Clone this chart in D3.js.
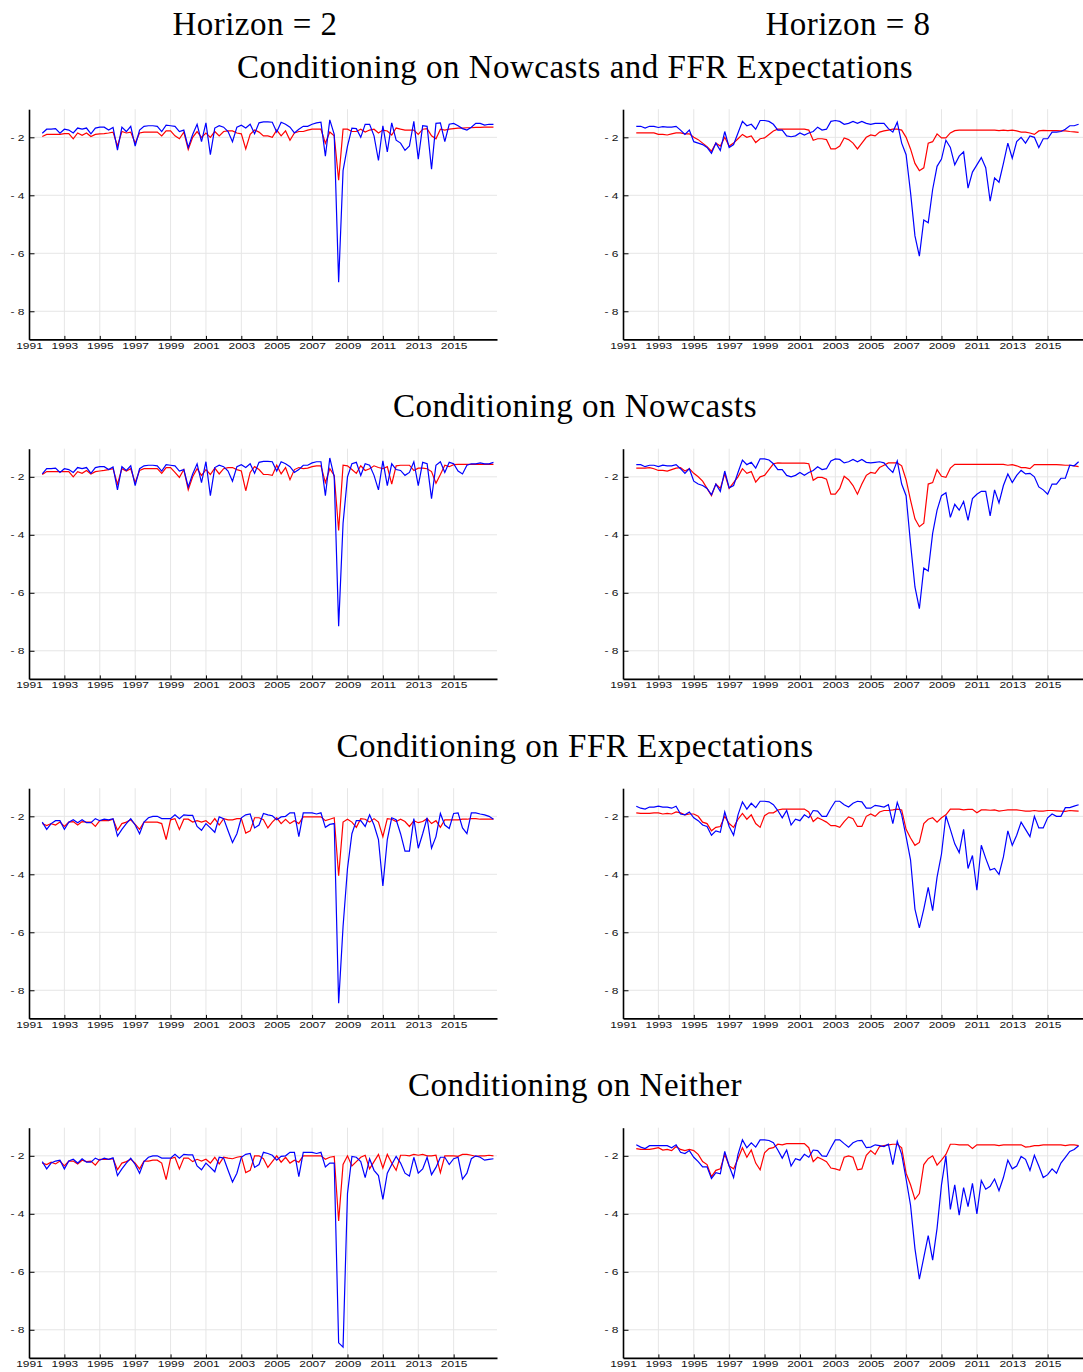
<!DOCTYPE html>
<html>
<head>
<meta charset="utf-8">
<script src="https://cdn.jsdelivr.net/npm/d3@7"></script>
<style>
  body { margin: 0; background: #fff; }
  svg { display: block; }
  .title { font-family: "Liberation Serif", "DejaVu Serif", serif; font-size: 33px; letter-spacing: 0.5px; fill: #000; }
  .axis text { font-family: "Liberation Sans", Arial, sans-serif; font-size: 9px; fill: #111; }
  .axis path { stroke: #000; stroke-width: 1.6px; }
  .axis line { stroke: #000; stroke-width: 1px; }
  .grid line { stroke: #e6e6e6; stroke-width: 1px; }
</style>
</head>
<body>
<div id="chart"></div>
<script>
// quarterly series, first point 1991Q4 (1991.75), step 0.25 year
const firstYear = 1991.75;
const step = 0.25;

const colTitles = ['Horizon = 2', 'Horizon = 8'];
const rowTitles = [
  'Conditioning on Nowcasts and FFR Expectations',
  'Conditioning on Nowcasts',
  'Conditioning on FFR Expectations',
  'Conditioning on Neither'
];
const xTicks = [1991, 1993, 1995, 1997, 1999, 2001, 2003, 2005, 2007, 2009, 2011, 2013, 2015];
const yTicks = [-2, -4, -6, -8];

// Row 1: Nowcasts and FFR Expectations
const bothH2Blue = [-1.86,-1.72,-1.72,-1.70,-1.86,-1.72,-1.75,-1.85,-1.68,-1.72,
  -1.68,-1.88,-1.68,-1.65,-1.65,-1.75,-1.66,-2.44,-1.65,-1.80,
  -1.62,-2.30,-1.75,-1.62,-1.60,-1.60,-1.62,-1.80,-1.58,-1.60,
  -1.62,-1.80,-1.75,-2.35,-1.90,-1.55,-2.15,-1.50,-2.60,-1.68,
  -1.60,-1.65,-1.80,-2.15,-1.65,-1.58,-1.68,-1.55,-1.88,-1.50,
  -1.47,-1.47,-1.48,-1.82,-1.48,-1.55,-1.65,-1.85,-1.72,-1.62,
  -1.62,-1.55,-1.50,-1.48,-2.65,-1.40,-1.90,-7.00,-3.15,-2.30,
  -1.68,-1.70,-2.00,-1.55,-1.55,-1.95,-2.80,-1.60,-2.50,-1.50,
  -2.10,-2.20,-2.45,-2.30,-1.45,-2.75,-1.60,-1.62,-3.10,-1.52,
  -1.50,-2.15,-1.55,-1.52,-1.60,-1.70,-1.75,-1.65,-1.52,-1.52,
  -1.58,-1.55,-1.55];
const bothH2Red = [-1.97,-1.90,-1.90,-1.90,-1.90,-1.87,-1.87,-2.05,-1.85,-1.93,
  -1.85,-1.97,-1.90,-1.88,-1.87,-1.85,-1.82,-2.30,-1.80,-1.85,
  -1.82,-2.20,-1.85,-1.82,-1.82,-1.82,-1.82,-1.95,-1.78,-1.78,
  -1.95,-2.05,-1.82,-2.42,-2.00,-1.80,-2.00,-1.85,-2.00,-1.80,
  -1.95,-1.80,-1.78,-1.78,-1.85,-1.88,-2.40,-1.90,-1.75,-1.82,
  -1.95,-1.95,-2.00,-1.75,-1.95,-1.78,-2.10,-1.85,-1.80,-1.80,
  -1.75,-1.72,-1.72,-1.72,-2.20,-1.82,-1.95,-3.48,-1.72,-1.72,
  -1.80,-1.80,-1.72,-1.82,-1.75,-1.72,-1.85,-1.75,-1.78,-1.92,
  -1.68,-1.72,-1.75,-1.75,-1.75,-1.90,-1.72,-1.70,-1.95,-2.05,
  -1.72,-1.75,-1.72,-1.70,-1.68,-1.68,-1.67,-1.67,-1.66,-1.66,
  -1.65,-1.65,-1.65];
const bothH8Blue = [-1.62,-1.62,-1.68,-1.62,-1.62,-1.66,-1.63,-1.65,-1.65,-1.62,
  -1.75,-1.90,-1.75,-2.15,-2.20,-2.25,-2.35,-2.55,-2.20,-2.45,
  -1.80,-2.35,-2.25,-1.85,-1.45,-1.60,-1.55,-1.72,-1.42,-1.42,
  -1.45,-1.55,-1.75,-1.75,-1.95,-1.98,-1.95,-1.85,-1.92,-1.85,
  -1.80,-1.65,-1.75,-1.72,-1.45,-1.42,-1.45,-1.55,-1.52,-1.45,
  -1.52,-1.45,-1.52,-1.55,-1.52,-1.52,-1.52,-1.70,-1.82,-1.48,
  -2.20,-2.60,-3.90,-5.40,-6.10,-4.85,-4.95,-3.80,-3.00,-2.75,
  -2.10,-2.35,-2.95,-2.65,-2.50,-3.75,-3.20,-2.95,-2.70,-3.05,
  -4.20,-3.40,-3.55,-2.90,-2.20,-2.72,-2.15,-2.00,-2.20,-1.95,
  -2.00,-2.35,-2.05,-2.05,-1.82,-1.82,-1.80,-1.72,-1.60,-1.60,
  -1.55];
const bothH8Red = [-1.85,-1.85,-1.85,-1.85,-1.85,-1.90,-1.90,-1.92,-1.88,-1.85,
  -1.85,-1.88,-1.88,-2.00,-2.08,-2.20,-2.32,-2.48,-2.20,-2.30,
  -2.00,-2.30,-2.20,-2.05,-1.90,-2.00,-1.95,-2.18,-2.05,-2.02,
  -1.90,-1.78,-1.72,-1.72,-1.72,-1.72,-1.72,-1.72,-1.72,-1.75,
  -2.10,-2.05,-2.05,-2.08,-2.40,-2.40,-2.30,-2.02,-2.08,-2.20,
  -2.40,-2.20,-2.00,-1.92,-1.95,-1.82,-1.78,-1.75,-1.72,-1.72,
  -1.75,-2.00,-2.40,-2.90,-3.15,-3.05,-2.20,-2.15,-1.88,-2.02,
  -2.02,-1.85,-1.77,-1.75,-1.75,-1.75,-1.75,-1.75,-1.75,-1.75,
  -1.75,-1.75,-1.77,-1.75,-1.77,-1.75,-1.78,-1.82,-1.82,-1.85,
  -1.90,-1.78,-1.76,-1.77,-1.77,-1.77,-1.78,-1.78,-1.80,-1.81,
  -1.83];

// Row 2: Nowcasts
const nowH2Blue = [-1.90,-1.72,-1.72,-1.70,-1.85,-1.72,-1.75,-1.85,-1.68,-1.72,
  -1.68,-1.88,-1.68,-1.65,-1.65,-1.75,-1.66,-2.45,-1.65,-1.78,
  -1.62,-2.30,-1.72,-1.62,-1.60,-1.60,-1.62,-1.80,-1.58,-1.60,
  -1.62,-1.80,-1.75,-2.35,-1.90,-1.55,-2.20,-1.48,-2.65,-1.68,
  -1.60,-1.65,-1.80,-2.15,-1.65,-1.58,-1.68,-1.55,-1.88,-1.50,
  -1.47,-1.47,-1.48,-1.80,-1.48,-1.55,-1.65,-1.85,-1.75,-1.60,
  -1.60,-1.52,-1.48,-1.48,-2.65,-1.35,-2.00,-7.15,-3.60,-2.00,
  -1.55,-1.50,-1.95,-1.55,-1.60,-1.95,-2.45,-1.45,-2.30,-1.55,
  -1.75,-1.78,-1.95,-1.85,-1.48,-2.30,-1.50,-1.55,-2.75,-1.60,
  -1.48,-1.85,-1.50,-1.55,-1.80,-1.90,-1.60,-1.55,-1.55,-1.52,
  -1.55,-1.55,-1.50];
const nowH2Red = [-1.92,-1.82,-1.82,-1.82,-1.82,-1.82,-1.82,-2.00,-1.82,-1.88,
  -1.78,-1.90,-1.82,-1.80,-1.78,-1.75,-1.72,-2.25,-1.72,-1.80,
  -1.72,-2.20,-1.78,-1.72,-1.72,-1.72,-1.72,-1.88,-1.68,-1.68,
  -1.85,-2.02,-1.75,-2.45,-2.00,-1.72,-1.95,-1.75,-1.92,-1.70,
  -1.90,-1.72,-1.68,-1.68,-1.75,-1.80,-2.48,-1.85,-1.65,-1.75,
  -1.92,-1.92,-1.95,-1.60,-1.90,-1.68,-2.10,-1.75,-1.68,-1.72,
  -1.70,-1.65,-1.62,-1.62,-2.20,-1.72,-1.95,-3.85,-1.60,-1.62,
  -1.75,-1.88,-1.62,-1.78,-1.72,-1.62,-1.68,-1.72,-1.65,-2.25,
  -1.62,-1.60,-1.60,-1.60,-1.78,-1.70,-1.70,-1.72,-1.82,-2.22,
  -1.92,-1.60,-1.65,-1.58,-1.57,-1.57,-1.57,-1.57,-1.57,-1.57,
  -1.57,-1.57,-1.57];
const nowH8Blue = [-1.58,-1.58,-1.65,-1.60,-1.60,-1.65,-1.60,-1.62,-1.62,-1.58,
  -1.72,-1.88,-1.72,-2.15,-2.25,-2.30,-2.40,-2.62,-2.25,-2.50,
  -1.80,-2.38,-2.30,-1.85,-1.42,-1.58,-1.50,-1.70,-1.38,-1.38,
  -1.42,-1.55,-1.75,-1.75,-1.95,-2.00,-1.95,-1.85,-1.95,-1.85,
  -1.78,-1.65,-1.75,-1.72,-1.45,-1.38,-1.40,-1.52,-1.48,-1.40,
  -1.48,-1.40,-1.50,-1.52,-1.50,-1.48,-1.52,-1.70,-1.85,-1.45,
  -2.25,-2.65,-4.30,-5.80,-6.55,-5.15,-5.25,-3.95,-3.15,-2.65,
  -2.55,-3.40,-2.95,-3.15,-2.85,-3.50,-2.75,-2.60,-2.50,-2.50,
  -3.35,-2.45,-2.90,-2.30,-1.90,-2.20,-1.95,-1.78,-1.90,-1.88,
  -2.00,-2.35,-2.45,-2.60,-2.25,-2.25,-2.05,-2.05,-1.60,-1.62,
  -1.48];
const nowH8Red = [-1.70,-1.70,-1.70,-1.68,-1.72,-1.78,-1.78,-1.80,-1.75,-1.70,
  -1.68,-1.80,-1.72,-1.88,-2.00,-2.15,-2.40,-2.65,-2.25,-2.40,
  -1.90,-2.40,-2.20,-2.00,-1.72,-1.88,-1.82,-2.18,-2.00,-1.95,
  -1.75,-1.55,-1.52,-1.53,-1.53,-1.53,-1.53,-1.53,-1.53,-1.55,
  -2.12,-2.02,-2.02,-2.08,-2.60,-2.60,-2.40,-1.98,-2.10,-2.30,
  -2.60,-2.25,-1.95,-1.85,-1.88,-1.68,-1.60,-1.52,-1.52,-1.52,
  -1.62,-2.10,-2.80,-3.45,-3.72,-3.60,-2.25,-2.20,-1.75,-1.98,
  -2.02,-1.70,-1.57,-1.57,-1.57,-1.57,-1.57,-1.57,-1.57,-1.57,
  -1.57,-1.57,-1.57,-1.57,-1.60,-1.58,-1.62,-1.68,-1.68,-1.72,
  -1.58,-1.58,-1.58,-1.58,-1.58,-1.58,-1.59,-1.60,-1.60,-1.62,
  -1.65];

// Row 3: FFR Expectations
const ffrH2Blue = [-2.20,-2.45,-2.25,-2.15,-2.15,-2.45,-2.20,-2.12,-2.22,-2.12,
  -2.22,-2.22,-2.08,-2.15,-2.10,-2.12,-2.08,-2.68,-2.45,-2.25,
  -2.08,-2.30,-2.60,-2.20,-2.05,-2.00,-2.00,-2.08,-2.08,-2.08,
  -1.95,-2.08,-1.95,-1.97,-1.97,-2.35,-2.48,-2.25,-2.40,-2.55,
  -2.02,-2.08,-2.50,-2.90,-2.60,-2.05,-1.95,-1.92,-2.40,-2.30,
  -1.90,-1.95,-1.98,-2.12,-2.02,-2.00,-1.88,-1.88,-2.70,-1.88,
  -1.88,-1.88,-1.92,-1.88,-2.38,-2.28,-2.25,-8.45,-5.80,-3.80,
  -2.60,-2.15,-2.15,-2.35,-1.95,-2.30,-2.80,-4.40,-2.80,-2.05,
  -2.12,-2.60,-3.20,-3.20,-2.08,-3.10,-2.60,-2.05,-3.10,-2.70,
  -1.90,-2.30,-2.42,-1.90,-1.88,-2.40,-2.60,-1.88,-1.88,-1.92,
  -1.95,-2.00,-2.10];
const ffrH2Red = [-2.25,-2.32,-2.25,-2.30,-2.20,-2.35,-2.20,-2.18,-2.30,-2.18,
  -2.20,-2.20,-2.35,-2.15,-2.15,-2.15,-2.10,-2.48,-2.25,-2.20,
  -2.12,-2.28,-2.45,-2.20,-2.20,-2.20,-2.20,-2.25,-2.80,-2.12,
  -2.08,-2.45,-2.10,-2.10,-2.20,-2.15,-2.20,-2.15,-2.28,-2.08,
  -2.30,-2.08,-2.12,-2.12,-2.08,-2.08,-2.58,-2.50,-2.05,-2.05,
  -2.12,-2.40,-2.20,-2.05,-2.25,-2.10,-2.25,-2.15,-2.25,-2.02,
  -2.02,-2.02,-2.02,-2.02,-2.15,-2.10,-2.05,-4.05,-2.20,-2.10,
  -2.20,-2.38,-2.08,-2.10,-2.20,-2.08,-2.20,-2.70,-2.08,-2.10,
  -2.18,-2.10,-2.18,-2.35,-2.15,-2.22,-2.18,-2.08,-2.25,-2.15,
  -2.38,-2.12,-2.12,-2.12,-2.12,-2.10,-2.10,-2.08,-2.08,-2.10,
  -2.10,-2.10,-2.10];
const ffrH8Blue = [-1.65,-1.72,-1.75,-1.68,-1.68,-1.65,-1.68,-1.68,-1.72,-1.65,
  -1.92,-1.95,-1.85,-2.05,-2.15,-2.30,-2.35,-2.65,-2.50,-2.55,
  -1.85,-2.35,-2.65,-1.95,-1.50,-1.75,-1.55,-1.70,-1.48,-1.48,
  -1.50,-1.60,-1.80,-2.05,-1.80,-2.30,-2.10,-2.15,-1.95,-2.05,
  -1.80,-1.82,-2.00,-2.00,-1.72,-1.48,-1.48,-1.60,-1.68,-1.55,
  -1.48,-1.50,-1.72,-1.72,-1.62,-1.65,-1.68,-1.60,-2.25,-1.52,
  -1.95,-2.70,-3.50,-5.20,-5.85,-5.20,-4.45,-5.25,-4.10,-3.30,
  -1.98,-2.45,-2.95,-3.25,-2.45,-3.80,-3.35,-4.55,-3.00,-3.45,
  -3.85,-3.80,-4.00,-3.40,-2.50,-3.00,-2.65,-2.20,-2.45,-2.70,
  -2.00,-2.40,-2.40,-2.05,-1.92,-2.00,-2.00,-1.70,-1.70,-1.65,
  -1.60];
const ffrH8Red = [-1.88,-1.90,-1.90,-1.90,-1.88,-1.88,-1.92,-1.90,-1.92,-1.85,
  -1.88,-1.95,-1.92,-1.92,-2.00,-2.20,-2.25,-2.50,-2.38,-2.35,
  -2.00,-2.25,-2.38,-2.10,-1.90,-2.10,-1.95,-2.25,-2.38,-1.98,
  -1.88,-1.88,-1.78,-1.75,-1.75,-1.75,-1.75,-1.75,-1.75,-1.85,
  -2.18,-2.05,-2.12,-2.20,-2.32,-2.32,-2.38,-2.18,-2.02,-2.08,
  -2.35,-2.35,-2.00,-1.92,-2.00,-1.85,-1.80,-1.80,-1.78,-1.75,
  -1.78,-2.45,-2.75,-3.00,-2.90,-2.25,-2.10,-2.05,-2.20,-2.05,
  -1.95,-1.75,-1.75,-1.75,-1.78,-1.76,-1.76,-1.88,-1.78,-1.78,
  -1.79,-1.78,-1.82,-1.80,-1.78,-1.78,-1.78,-1.80,-1.82,-1.82,
  -1.80,-1.82,-1.82,-1.80,-1.80,-1.81,-1.82,-1.83,-1.80,-1.81,
  -1.82];

// Row 4: Neither
const neitherH2Blue = [-2.20,-2.45,-2.25,-2.18,-2.15,-2.45,-2.18,-2.12,-2.25,-2.10,
  -2.22,-2.22,-2.08,-2.15,-2.08,-2.12,-2.07,-2.68,-2.45,-2.25,
  -2.08,-2.30,-2.60,-2.20,-2.05,-2.00,-2.00,-2.08,-2.08,-2.08,
  -1.95,-2.08,-1.95,-1.97,-1.97,-2.35,-2.48,-2.25,-2.40,-2.55,
  -2.05,-2.08,-2.50,-2.90,-2.60,-2.05,-1.95,-1.92,-2.40,-2.30,
  -1.88,-1.92,-1.98,-2.15,-2.02,-2.00,-1.88,-1.88,-2.72,-1.88,
  -1.88,-1.88,-1.92,-1.88,-2.38,-2.25,-2.25,-8.45,-8.60,-3.30,
  -2.02,-2.05,-2.20,-2.75,-2.10,-2.50,-2.68,-3.50,-2.60,-2.30,
  -2.02,-2.25,-2.60,-2.70,-2.05,-2.60,-2.45,-2.05,-2.65,-2.40,
  -2.05,-2.05,-2.30,-2.10,-2.05,-2.80,-2.60,-2.10,-2.00,-2.05,
  -2.15,-2.12,-2.10];
const neitherH2Red = [-2.25,-2.30,-2.22,-2.28,-2.18,-2.35,-2.18,-2.18,-2.28,-2.15,
  -2.20,-2.18,-2.32,-2.12,-2.12,-2.12,-2.10,-2.48,-2.25,-2.20,
  -2.12,-2.25,-2.45,-2.18,-2.18,-2.15,-2.15,-2.25,-2.82,-2.10,
  -2.05,-2.45,-2.08,-2.08,-2.20,-2.12,-2.18,-2.12,-2.25,-2.05,
  -2.28,-2.05,-2.08,-2.10,-2.05,-2.02,-2.58,-2.50,-2.00,-2.00,
  -2.10,-2.40,-2.20,-2.00,-2.22,-2.05,-2.25,-2.15,-2.22,-2.00,
  -2.00,-2.00,-2.00,-2.00,-2.12,-2.05,-2.02,-4.25,-2.30,-2.00,
  -2.35,-2.20,-2.05,-1.98,-2.45,-2.20,-1.95,-2.42,-1.95,-2.25,
  -2.50,-1.98,-1.98,-2.00,-1.95,-1.98,-1.95,-2.00,-2.00,-1.98,
  -2.58,-2.00,-2.00,-2.00,-2.02,-1.95,-1.95,-1.98,-2.02,-2.00,
  -2.00,-1.98,-2.00];
const neitherH8Blue = [-1.62,-1.70,-1.75,-1.65,-1.65,-1.65,-1.65,-1.65,-1.72,-1.62,
  -1.88,-1.92,-1.82,-2.05,-2.20,-2.38,-2.38,-2.78,-2.58,-2.62,
  -1.85,-2.35,-2.75,-1.95,-1.45,-1.72,-1.55,-1.70,-1.45,-1.45,
  -1.47,-1.55,-1.80,-2.08,-1.80,-2.35,-2.10,-2.15,-1.95,-2.05,
  -1.80,-1.82,-2.00,-2.02,-1.72,-1.45,-1.45,-1.58,-1.70,-1.55,
  -1.48,-1.47,-1.72,-1.70,-1.62,-1.65,-1.68,-1.60,-2.30,-1.50,
  -1.95,-2.80,-3.70,-5.20,-6.25,-5.50,-4.75,-5.60,-4.50,-3.00,
  -2.00,-3.85,-3.00,-4.05,-3.10,-3.75,-2.95,-4.00,-2.85,-3.15,
  -3.05,-2.80,-3.20,-2.75,-2.15,-2.45,-2.35,-2.02,-2.12,-2.50,
  -1.98,-2.35,-2.75,-2.65,-2.45,-2.60,-2.25,-2.05,-1.85,-1.78,
  -1.65];
const neitherH8Red = [-1.75,-1.78,-1.78,-1.78,-1.75,-1.72,-1.80,-1.78,-1.82,-1.68,
  -1.78,-1.82,-1.78,-1.82,-1.95,-2.20,-2.30,-2.72,-2.50,-2.45,
  -1.95,-2.35,-2.45,-2.10,-1.72,-2.05,-1.80,-2.25,-2.48,-1.90,
  -1.75,-1.72,-1.60,-1.62,-1.58,-1.58,-1.58,-1.58,-1.58,-1.72,
  -2.20,-2.05,-2.12,-2.20,-2.42,-2.45,-2.50,-2.05,-2.00,-2.05,
  -2.48,-2.45,-1.98,-1.82,-1.95,-1.68,-1.65,-1.62,-1.60,-1.60,
  -1.72,-2.60,-3.00,-3.50,-3.30,-2.30,-2.10,-2.00,-2.32,-2.15,
  -1.95,-1.60,-1.60,-1.62,-1.62,-1.62,-1.75,-1.62,-1.62,-1.62,
  -1.62,-1.62,-1.65,-1.62,-1.62,-1.62,-1.62,-1.62,-1.70,-1.68,
  -1.65,-1.65,-1.62,-1.62,-1.62,-1.62,-1.62,-1.65,-1.62,-1.62,
  -1.65];

const panels = [
  { row: 0, col: 0, blue: bothH2Blue, red: bothH2Red },
  { row: 0, col: 1, blue: bothH8Blue, red: bothH8Red },
  { row: 1, col: 0, blue: nowH2Blue, red: nowH2Red },
  { row: 1, col: 1, blue: nowH8Blue, red: nowH8Red },
  { row: 2, col: 0, blue: ffrH2Blue, red: ffrH2Red },
  { row: 2, col: 1, blue: ffrH8Blue, red: ffrH8Red },
  { row: 3, col: 0, blue: neitherH2Blue, red: neitherH2Red },
  { row: 3, col: 1, blue: neitherH8Blue, red: neitherH8Red },
];

const width = 1083;
const height = 1372;
const panelW = 468;
const panelH = 230.2;
const colLeft = [29, 623];
const rowTop = 109.2;
const rowStep = 339.5;

const svg = d3.select('#chart')
  .append('svg')
  .attr('width', width)
  .attr('height', height);

svg.append('rect').attr('width', width).attr('height', height).attr('fill', '#fff');

// column headers
svg.selectAll('text.col-title')
  .data(colTitles)
  .join('text')
  .attr('class', 'title col-title')
  .attr('x', (d, i) => [255, 848][i])
  .attr('y', 34.5)
  .attr('text-anchor', 'middle')
  .text(d => d);

// row headers
svg.selectAll('text.row-title')
  .data(rowTitles)
  .join('text')
  .attr('class', 'title row-title')
  .attr('x', 575)
  .attr('y', (d, i) => 77.5 + i * rowStep)
  .attr('text-anchor', 'middle')
  .text(d => d);

panels.forEach(p => {
  const x0 = colLeft[p.col];
  const top = rowTop + p.row * rowStep;

  const xScale = d3.scaleLinear()
    .domain([1991, 2017.45])
    .range([x0, x0 + panelW]);

  const yScale = d3.scaleLinear()
    .domain([-8.97, -1.03])
    .range([top + panelH, top]);

  const g = svg.append('g');

  // gridlines
  g.append('g')
    .attr('class', 'grid')
    .selectAll('line.v')
    .data(xTicks.filter(d => d > 1991))
    .join('line')
    .attr('x1', d => xScale(d))
    .attr('x2', d => xScale(d))
    .attr('y1', top)
    .attr('y2', top + panelH);

  g.append('g')
    .attr('class', 'grid')
    .selectAll('line.h')
    .data(yTicks)
    .join('line')
    .attr('x1', x0)
    .attr('x2', x0 + panelW)
    .attr('y1', d => yScale(d))
    .attr('y2', d => yScale(d));

  // series
  const line = d3.line()
    .x((d, i) => xScale(firstYear + i * step))
    .y(d => yScale(d));

  g.append('path')
    .datum(p.red)
    .attr('fill', 'none')
    .attr('stroke', '#ff0000')
    .attr('stroke-width', 1.2)
    .attr('d', line);

  g.append('path')
    .datum(p.blue)
    .attr('fill', 'none')
    .attr('stroke', '#0000ff')
    .attr('stroke-width', 1.2)
    .attr('d', line);

  // axes
  g.append('g')
    .attr('class', 'axis')
    .attr('transform', `translate(0, ${top + panelH})`)
    .call(d3.axisBottom(xScale)
      .tickValues(xTicks)
      .tickFormat(d3.format('d'))
      .tickSizeInner(-3.5)
      .tickSizeOuter(0)
      .tickPadding(3))
    .selectAll('text')
    .attr('transform', 'scale(1.33,1)');

  g.append('g')
    .attr('class', 'axis')
    .attr('transform', `translate(${x0}, 0)`)
    .call(d3.axisLeft(yScale)
      .tickValues(yTicks)
      .tickFormat(d => `- ${Math.abs(d)}`)
      .tickSizeInner(-5.5)
      .tickSizeOuter(0)
      .tickPadding(3.5))
    .selectAll('text')
    .attr('transform', 'scale(1.33,1)');
});
</script>
</body>
</html>
